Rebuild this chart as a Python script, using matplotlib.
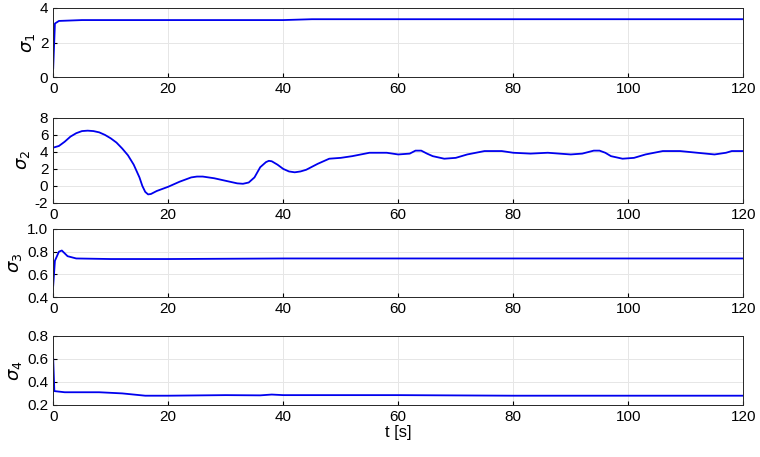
import matplotlib
matplotlib.use("Agg")
import matplotlib.pyplot as plt

plt.rcParams['font.family'] = ['Liberation Sans', 'DejaVu Sans']
plt.rcParams['mathtext.fontset'] = 'dejavusans'
plt.rcParams['axes.unicode_minus'] = False

t1 = [0, 0.3, 1, 5, 40, 45, 120]
s1 = [0.5, 3.1, 3.25, 3.3, 3.3, 3.35, 3.35]

t2 = [0, 1, 2, 3, 4, 5, 6, 7, 8, 9, 10, 11, 12, 13, 14, 15, 15.5, 16, 16.5, 17, 18, 20, 22, 24, 25, 26, 28, 30, 32, 33, 34, 35, 36, 37, 37.5, 38, 39, 40, 41, 42, 43, 44, 46, 48, 50, 52, 55, 58, 60, 62, 63, 64, 65, 66, 68, 70, 72, 75, 78, 80, 83, 86, 88, 90, 92, 94, 95, 96, 97, 99, 101, 103, 106, 109, 112, 115, 117, 118, 120]
s2 = [4.5, 4.7, 5.2, 5.8, 6.2, 6.45, 6.5, 6.45, 6.3, 6.0, 5.6, 5.1, 4.4, 3.6, 2.5, 1.0, 0.0, -0.7, -1.0, -0.95, -0.6, -0.1, 0.5, 1.0, 1.1, 1.1, 0.9, 0.6, 0.3, 0.25, 0.4, 1.0, 2.2, 2.8, 2.95, 2.9, 2.5, 2.0, 1.7, 1.6, 1.7, 1.9, 2.6, 3.2, 3.3, 3.5, 3.9, 3.9, 3.7, 3.8, 4.15, 4.15, 3.8, 3.5, 3.2, 3.3, 3.7, 4.1, 4.1, 3.9, 3.8, 3.9, 3.8, 3.7, 3.8, 4.15, 4.15, 3.9, 3.5, 3.2, 3.3, 3.7, 4.1, 4.1, 3.9, 3.7, 3.9, 4.1, 4.1]

t3 = [0, 0.3, 1, 1.5, 2.5, 4, 10, 20, 40, 120]
s3 = [0.5, 0.72, 0.8, 0.81, 0.76, 0.74, 0.735, 0.735, 0.74, 0.74]

t4 = [0, 0.2, 2, 8, 12, 16, 20, 30, 36, 38, 40, 60, 80, 120]
s4 = [0.6, 0.32, 0.31, 0.31, 0.3, 0.28, 0.28, 0.285, 0.283, 0.29, 0.285, 0.285, 0.28, 0.28]

xticks = [0, 20, 40, 60, 80, 100, 120]
panels = [
    (t1, s1, (0, 4), [0, 2, 4], r'$\sigma_1$', (0.9825, 0.8315)),
    (t2, s2, (-2, 8), [-2, 0, 2, 4, 6, 8], r'$\sigma_2$', (0.742, 0.556)),
    (t3, s3, (0.4, 1), [0.4, 0.6, 0.8, 1], r'$\sigma_3$', (0.499, 0.350)),
    (t4, s4, (0.2, 0.8), [0.2, 0.4, 0.6, 0.8], r'$\sigma_4$', (0.265, 0.114)),
]

fig = plt.figure(figsize=(7.6, 4.57), dpi=100)
for t, s, yl, yt, lab, (top, bot) in panels:
    ax = fig.add_axes([0.07, bot, 0.908, top - bot])
    ax.plot(t, s, color='#0000ee', lw=1.3)
    ax.set_xlim(0, 120)
    ax.set_ylim(*yl)
    ax.set_xticks(xticks)
    ax.set_yticks(yt)
    ax.grid(True, color='#e6e6e6', lw=0.7)
    ax.tick_params(direction='in', labelsize=11, length=3)
    ax.set_ylabel(lab, fontsize=13, labelpad=2)
    for sp in ax.spines.values():
        sp.set_color('#262626')
        sp.set_linewidth(0.7)
ax.set_xlabel('t [s]', fontsize=12, labelpad=1)
fig.savefig('out.png', dpi=100)
